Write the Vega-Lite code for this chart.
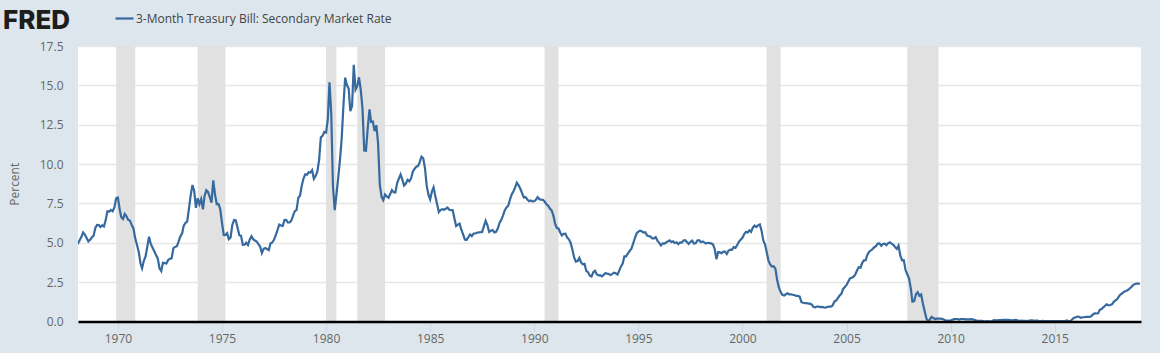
{"$schema":"https://vega.github.io/schema/vega-lite/v6.json","width":1063,"height":275.5,"autosize":"none","padding":{"left":78,"right":19,"top":46,"bottom":31},"background":"#dce6ec","view":{"fill":"#ffffff","stroke":null},"title":{"text":"FRED","anchor":"start","frame":"group","dx":-75,"offset":-26,"font":"Inter","fontSize":26,"fontWeight":800,"color":"#1d1d1b"},"layer":[{"data":{"values":[{"start":"1969-12","end":"1970-11"},{"start":"1973-11","end":"1975-03"},{"start":"1980-01","end":"1980-07"},{"start":"1981-07","end":"1982-11"},{"start":"1990-07","end":"1991-03"},{"start":"2001-03","end":"2001-11"},{"start":"2007-12","end":"2009-06"}]},"mark":{"type":"rect","color":"#e1e1e1"},"encoding":{"x":{"field":"start","type":"temporal","scale":{"type":"utc","domain":[{"year":1968,"month":2,"date":1,"utc":true},{"year":2019,"month":2,"date":22,"utc":true}]},"axis":{"title":null,"format":"%Y","formatType":"utc","tickCount":{"interval":"year","step":5},"grid":false,"domainColor":"#000000","domainWidth":2.5,"tickColor":"#ccd6eb","tickWidth":1,"tickSize":10,"labelFont":"Open Sans","labelFontSize":12,"labelColor":"#666666","labelPadding":2,"zindex":1}},"x2":{"field":"end"}}},{"data":{"name":"rates"},"mark":{"type":"line","strokeWidth":2.2,"clip":true,"interpolate":"linear"},"encoding":{"x":{"field":"d","type":"temporal"},"y":{"field":"v","type":"quantitative","scale":{"domain":[0,17.5],"nice":false},"axis":{"title":"Percent","titleFont":"Open Sans","titleFontSize":12,"titleFontWeight":"normal","titleColor":"#666666","titlePadding":18,"format":".1f","values":[0,2.5,5,7.5,10,12.5,15,17.5],"domain":false,"ticks":false,"grid":true,"gridColor":"#e6e6e6","gridWidth":1.3,"labelFont":"Open Sans","labelFontSize":12,"labelColor":"#666666","labelPadding":15,"zindex":0}},"color":{"datum":"3-Month Treasury Bill: Secondary Market Rate","scale":{"range":["#36699e"]},"legend":{"title":null,"orient":"none","legendX":36,"legendY":-38,"symbolType":"stroke","symbolStrokeWidth":2.2,"symbolSize":324,"labelFont":"Open Sans","labelFontSize":12,"labelColor":"#444444","labelLimit":400,"labelOffset":1}}}}],"datasets":{"rates":[
{"d":"1968-01","v":5.08},{"d":"1968-02","v":4.97},{"d":"1968-03","v":5.16},{"d":"1968-04","v":5.38},{"d":"1968-05","v":5.66},{"d":"1968-06","v":5.52},{"d":"1968-07","v":5.31},{"d":"1968-08","v":5.09},{"d":"1968-09","v":5.19},{"d":"1968-10","v":5.35},{"d":"1968-11","v":5.45},{"d":"1968-12","v":5.94},
{"d":"1969-01","v":6.13},{"d":"1969-02","v":6.12},{"d":"1969-03","v":6.01},{"d":"1969-04","v":6.11},{"d":"1969-05","v":6.04},{"d":"1969-06","v":6.44},{"d":"1969-07","v":7.0},{"d":"1969-08","v":6.98},{"d":"1969-09","v":7.09},{"d":"1969-10","v":7.0},{"d":"1969-11","v":7.24},{"d":"1969-12","v":7.82},
{"d":"1970-01","v":7.87},{"d":"1970-02","v":7.13},{"d":"1970-03","v":6.63},{"d":"1970-04","v":6.51},{"d":"1970-05","v":6.84},{"d":"1970-06","v":6.68},{"d":"1970-07","v":6.45},{"d":"1970-08","v":6.41},{"d":"1970-09","v":6.12},{"d":"1970-10","v":5.91},{"d":"1970-11","v":5.28},{"d":"1970-12","v":4.87},
{"d":"1971-01","v":4.44},{"d":"1971-02","v":3.7},{"d":"1971-03","v":3.38},{"d":"1971-04","v":3.86},{"d":"1971-05","v":4.14},{"d":"1971-06","v":4.75},{"d":"1971-07","v":5.39},{"d":"1971-08","v":4.93},{"d":"1971-09","v":4.69},{"d":"1971-10","v":4.46},{"d":"1971-11","v":4.22},{"d":"1971-12","v":4.01},
{"d":"1972-01","v":3.38},{"d":"1972-02","v":3.2},{"d":"1972-03","v":3.73},{"d":"1972-04","v":3.71},{"d":"1972-05","v":3.69},{"d":"1972-06","v":3.91},{"d":"1972-07","v":3.98},{"d":"1972-08","v":4.02},{"d":"1972-09","v":4.66},{"d":"1972-10","v":4.74},{"d":"1972-11","v":4.78},{"d":"1972-12","v":5.07},
{"d":"1973-01","v":5.41},{"d":"1973-02","v":5.6},{"d":"1973-03","v":6.09},{"d":"1973-04","v":6.26},{"d":"1973-05","v":6.36},{"d":"1973-06","v":7.19},{"d":"1973-07","v":8.01},{"d":"1973-08","v":8.67},{"d":"1973-09","v":8.29},{"d":"1973-10","v":7.22},{"d":"1973-11","v":7.83},{"d":"1973-12","v":7.45},
{"d":"1974-01","v":7.77},{"d":"1974-02","v":7.12},{"d":"1974-03","v":7.96},{"d":"1974-04","v":8.33},{"d":"1974-05","v":8.23},{"d":"1974-06","v":7.9},{"d":"1974-07","v":7.55},{"d":"1974-08","v":8.96},{"d":"1974-09","v":8.06},{"d":"1974-10","v":7.46},{"d":"1974-11","v":7.47},{"d":"1974-12","v":7.15},
{"d":"1975-01","v":6.26},{"d":"1975-02","v":5.5},{"d":"1975-03","v":5.49},{"d":"1975-04","v":5.61},{"d":"1975-05","v":5.23},{"d":"1975-06","v":5.34},{"d":"1975-07","v":6.13},{"d":"1975-08","v":6.44},{"d":"1975-09","v":6.42},{"d":"1975-10","v":5.96},{"d":"1975-11","v":5.48},{"d":"1975-12","v":5.44},
{"d":"1976-01","v":4.87},{"d":"1976-02","v":4.88},{"d":"1976-03","v":5.0},{"d":"1976-04","v":4.86},{"d":"1976-05","v":5.2},{"d":"1976-06","v":5.41},{"d":"1976-07","v":5.23},{"d":"1976-08","v":5.14},{"d":"1976-09","v":5.08},{"d":"1976-10","v":4.92},{"d":"1976-11","v":4.75},{"d":"1976-12","v":4.35},
{"d":"1977-01","v":4.62},{"d":"1977-02","v":4.67},{"d":"1977-03","v":4.6},{"d":"1977-04","v":4.54},{"d":"1977-05","v":4.96},{"d":"1977-06","v":5.02},{"d":"1977-07","v":5.19},{"d":"1977-08","v":5.49},{"d":"1977-09","v":5.81},{"d":"1977-10","v":6.16},{"d":"1977-11","v":6.1},{"d":"1977-12","v":6.07},
{"d":"1978-01","v":6.44},{"d":"1978-02","v":6.45},{"d":"1978-03","v":6.29},{"d":"1978-04","v":6.29},{"d":"1978-05","v":6.41},{"d":"1978-06","v":6.73},{"d":"1978-07","v":7.01},{"d":"1978-08","v":7.08},{"d":"1978-09","v":7.85},{"d":"1978-10","v":7.99},{"d":"1978-11","v":8.64},{"d":"1978-12","v":9.08},
{"d":"1979-01","v":9.35},{"d":"1979-02","v":9.32},{"d":"1979-03","v":9.48},{"d":"1979-04","v":9.46},{"d":"1979-05","v":9.61},{"d":"1979-06","v":9.06},{"d":"1979-07","v":9.24},{"d":"1979-08","v":9.52},{"d":"1979-09","v":10.26},{"d":"1979-10","v":11.7},{"d":"1979-11","v":11.79},{"d":"1979-12","v":12.04},
{"d":"1980-01","v":12.0},{"d":"1980-02","v":12.86},{"d":"1980-03","v":15.2},{"d":"1980-04","v":13.2},{"d":"1980-05","v":8.58},{"d":"1980-06","v":7.07},{"d":"1980-07","v":8.06},{"d":"1980-08","v":9.13},{"d":"1980-09","v":10.27},{"d":"1980-10","v":11.62},{"d":"1980-11","v":13.73},{"d":"1980-12","v":15.49},
{"d":"1981-01","v":15.02},{"d":"1981-02","v":14.79},{"d":"1981-03","v":13.36},{"d":"1981-04","v":13.69},{"d":"1981-05","v":16.3},{"d":"1981-06","v":14.73},{"d":"1981-07","v":14.95},{"d":"1981-08","v":15.51},{"d":"1981-09","v":14.7},{"d":"1981-10","v":13.54},{"d":"1981-11","v":10.86},{"d":"1981-12","v":10.85},
{"d":"1982-01","v":12.28},{"d":"1982-02","v":13.48},{"d":"1982-03","v":12.68},{"d":"1982-04","v":12.7},{"d":"1982-05","v":12.09},{"d":"1982-06","v":12.47},{"d":"1982-07","v":11.35},{"d":"1982-08","v":8.68},{"d":"1982-09","v":7.92},{"d":"1982-10","v":7.71},{"d":"1982-11","v":8.07},{"d":"1982-12","v":7.94},
{"d":"1983-01","v":7.86},{"d":"1983-02","v":8.11},{"d":"1983-03","v":8.35},{"d":"1983-04","v":8.21},{"d":"1983-05","v":8.19},{"d":"1983-06","v":8.79},{"d":"1983-07","v":9.08},{"d":"1983-08","v":9.34},{"d":"1983-09","v":9.0},{"d":"1983-10","v":8.64},{"d":"1983-11","v":8.76},{"d":"1983-12","v":9.0},
{"d":"1984-01","v":8.9},{"d":"1984-02","v":9.09},{"d":"1984-03","v":9.52},{"d":"1984-04","v":9.69},{"d":"1984-05","v":9.83},{"d":"1984-06","v":9.87},{"d":"1984-07","v":10.12},{"d":"1984-08","v":10.47},{"d":"1984-09","v":10.37},{"d":"1984-10","v":9.74},{"d":"1984-11","v":8.61},{"d":"1984-12","v":8.06},
{"d":"1985-01","v":7.76},{"d":"1985-02","v":8.27},{"d":"1985-03","v":8.52},{"d":"1985-04","v":7.95},{"d":"1985-05","v":7.48},{"d":"1985-06","v":6.95},{"d":"1985-07","v":7.08},{"d":"1985-08","v":7.14},{"d":"1985-09","v":7.1},{"d":"1985-10","v":7.16},{"d":"1985-11","v":7.24},{"d":"1985-12","v":7.1},
{"d":"1986-01","v":7.07},{"d":"1986-02","v":7.06},{"d":"1986-03","v":6.56},{"d":"1986-04","v":6.06},{"d":"1986-05","v":6.15},{"d":"1986-06","v":6.21},{"d":"1986-07","v":5.83},{"d":"1986-08","v":5.53},{"d":"1986-09","v":5.21},{"d":"1986-10","v":5.18},{"d":"1986-11","v":5.35},{"d":"1986-12","v":5.53},
{"d":"1987-01","v":5.43},{"d":"1987-02","v":5.59},{"d":"1987-03","v":5.59},{"d":"1987-04","v":5.64},{"d":"1987-05","v":5.66},{"d":"1987-06","v":5.67},{"d":"1987-07","v":5.69},{"d":"1987-08","v":6.04},{"d":"1987-09","v":6.4},{"d":"1987-10","v":6.13},{"d":"1987-11","v":5.69},{"d":"1987-12","v":5.77},
{"d":"1988-01","v":5.81},{"d":"1988-02","v":5.66},{"d":"1988-03","v":5.7},{"d":"1988-04","v":5.91},{"d":"1988-05","v":6.26},{"d":"1988-06","v":6.46},{"d":"1988-07","v":6.73},{"d":"1988-08","v":7.06},{"d":"1988-09","v":7.24},{"d":"1988-10","v":7.35},{"d":"1988-11","v":7.76},{"d":"1988-12","v":8.07},
{"d":"1989-01","v":8.27},{"d":"1989-02","v":8.53},{"d":"1989-03","v":8.82},{"d":"1989-04","v":8.65},{"d":"1989-05","v":8.43},{"d":"1989-06","v":8.15},{"d":"1989-07","v":7.88},{"d":"1989-08","v":7.9},{"d":"1989-09","v":7.75},{"d":"1989-10","v":7.64},{"d":"1989-11","v":7.69},{"d":"1989-12","v":7.63},
{"d":"1990-01","v":7.64},{"d":"1990-02","v":7.74},{"d":"1990-03","v":7.9},{"d":"1990-04","v":7.77},{"d":"1990-05","v":7.74},{"d":"1990-06","v":7.73},{"d":"1990-07","v":7.62},{"d":"1990-08","v":7.45},{"d":"1990-09","v":7.36},{"d":"1990-10","v":7.17},{"d":"1990-11","v":7.06},{"d":"1990-12","v":6.74},
{"d":"1991-01","v":6.22},{"d":"1991-02","v":5.94},{"d":"1991-03","v":5.91},{"d":"1991-04","v":5.65},{"d":"1991-05","v":5.46},{"d":"1991-06","v":5.57},{"d":"1991-07","v":5.58},{"d":"1991-08","v":5.33},{"d":"1991-09","v":5.22},{"d":"1991-10","v":4.99},{"d":"1991-11","v":4.56},{"d":"1991-12","v":4.07},
{"d":"1992-01","v":3.8},{"d":"1992-02","v":3.84},{"d":"1992-03","v":4.04},{"d":"1992-04","v":3.75},{"d":"1992-05","v":3.63},{"d":"1992-06","v":3.66},{"d":"1992-07","v":3.21},{"d":"1992-08","v":3.13},{"d":"1992-09","v":2.91},{"d":"1992-10","v":2.86},{"d":"1992-11","v":3.13},{"d":"1992-12","v":3.22},
{"d":"1993-01","v":3.0},{"d":"1993-02","v":2.93},{"d":"1993-03","v":2.95},{"d":"1993-04","v":2.87},{"d":"1993-05","v":2.96},{"d":"1993-06","v":3.07},{"d":"1993-07","v":3.04},{"d":"1993-08","v":3.02},{"d":"1993-09","v":2.95},{"d":"1993-10","v":3.02},{"d":"1993-11","v":3.1},{"d":"1993-12","v":3.06},
{"d":"1994-01","v":2.98},{"d":"1994-02","v":3.25},{"d":"1994-03","v":3.5},{"d":"1994-04","v":3.68},{"d":"1994-05","v":4.14},{"d":"1994-06","v":4.14},{"d":"1994-07","v":4.33},{"d":"1994-08","v":4.48},{"d":"1994-09","v":4.62},{"d":"1994-10","v":4.95},{"d":"1994-11","v":5.29},{"d":"1994-12","v":5.6},
{"d":"1995-01","v":5.71},{"d":"1995-02","v":5.77},{"d":"1995-03","v":5.73},{"d":"1995-04","v":5.65},{"d":"1995-05","v":5.67},{"d":"1995-06","v":5.47},{"d":"1995-07","v":5.42},{"d":"1995-08","v":5.4},{"d":"1995-09","v":5.28},{"d":"1995-10","v":5.28},{"d":"1995-11","v":5.36},{"d":"1995-12","v":5.14},
{"d":"1996-01","v":5.0},{"d":"1996-02","v":4.83},{"d":"1996-03","v":4.96},{"d":"1996-04","v":4.95},{"d":"1996-05","v":5.02},{"d":"1996-06","v":5.09},{"d":"1996-07","v":5.15},{"d":"1996-08","v":5.05},{"d":"1996-09","v":5.09},{"d":"1996-10","v":4.99},{"d":"1996-11","v":5.03},{"d":"1996-12","v":4.91},
{"d":"1997-01","v":5.03},{"d":"1997-02","v":5.01},{"d":"1997-03","v":5.14},{"d":"1997-04","v":5.16},{"d":"1997-05","v":5.05},{"d":"1997-06","v":4.93},{"d":"1997-07","v":5.05},{"d":"1997-08","v":5.14},{"d":"1997-09","v":4.95},{"d":"1997-10","v":4.97},{"d":"1997-11","v":5.14},{"d":"1997-12","v":5.16},
{"d":"1998-01","v":5.04},{"d":"1998-02","v":5.09},{"d":"1998-03","v":5.03},{"d":"1998-04","v":4.95},{"d":"1998-05","v":5.0},{"d":"1998-06","v":4.98},{"d":"1998-07","v":4.96},{"d":"1998-08","v":4.9},{"d":"1998-09","v":4.61},{"d":"1998-10","v":3.96},{"d":"1998-11","v":4.41},{"d":"1998-12","v":4.39},
{"d":"1999-01","v":4.34},{"d":"1999-02","v":4.44},{"d":"1999-03","v":4.44},{"d":"1999-04","v":4.29},{"d":"1999-05","v":4.5},{"d":"1999-06","v":4.57},{"d":"1999-07","v":4.55},{"d":"1999-08","v":4.72},{"d":"1999-09","v":4.68},{"d":"1999-10","v":4.86},{"d":"1999-11","v":5.07},{"d":"1999-12","v":5.2},
{"d":"2000-01","v":5.32},{"d":"2000-02","v":5.55},{"d":"2000-03","v":5.69},{"d":"2000-04","v":5.66},{"d":"2000-05","v":5.79},{"d":"2000-06","v":5.69},{"d":"2000-07","v":5.96},{"d":"2000-08","v":6.09},{"d":"2000-09","v":6.0},{"d":"2000-10","v":6.11},{"d":"2000-11","v":6.17},{"d":"2000-12","v":5.77},
{"d":"2001-01","v":5.15},{"d":"2001-02","v":4.88},{"d":"2001-03","v":4.42},{"d":"2001-04","v":3.87},{"d":"2001-05","v":3.62},{"d":"2001-06","v":3.49},{"d":"2001-07","v":3.51},{"d":"2001-08","v":3.36},{"d":"2001-09","v":2.64},{"d":"2001-10","v":2.16},{"d":"2001-11","v":1.87},{"d":"2001-12","v":1.69},
{"d":"2002-01","v":1.65},{"d":"2002-02","v":1.73},{"d":"2002-03","v":1.79},{"d":"2002-04","v":1.72},{"d":"2002-05","v":1.73},{"d":"2002-06","v":1.7},{"d":"2002-07","v":1.68},{"d":"2002-08","v":1.62},{"d":"2002-09","v":1.63},{"d":"2002-10","v":1.58},{"d":"2002-11","v":1.23},{"d":"2002-12","v":1.19},
{"d":"2003-01","v":1.17},{"d":"2003-02","v":1.17},{"d":"2003-03","v":1.13},{"d":"2003-04","v":1.13},{"d":"2003-05","v":1.07},{"d":"2003-06","v":0.92},{"d":"2003-07","v":0.9},{"d":"2003-08","v":0.95},{"d":"2003-09","v":0.94},{"d":"2003-10","v":0.92},{"d":"2003-11","v":0.93},{"d":"2003-12","v":0.9},
{"d":"2004-01","v":0.88},{"d":"2004-02","v":0.93},{"d":"2004-03","v":0.94},{"d":"2004-04","v":0.94},{"d":"2004-05","v":1.02},{"d":"2004-06","v":1.27},{"d":"2004-07","v":1.33},{"d":"2004-08","v":1.48},{"d":"2004-09","v":1.65},{"d":"2004-10","v":1.76},{"d":"2004-11","v":2.07},{"d":"2004-12","v":2.19},
{"d":"2005-01","v":2.33},{"d":"2005-02","v":2.54},{"d":"2005-03","v":2.74},{"d":"2005-04","v":2.78},{"d":"2005-05","v":2.84},{"d":"2005-06","v":2.97},{"d":"2005-07","v":3.22},{"d":"2005-08","v":3.44},{"d":"2005-09","v":3.42},{"d":"2005-10","v":3.71},{"d":"2005-11","v":3.88},{"d":"2005-12","v":3.89},
{"d":"2006-01","v":4.24},{"d":"2006-02","v":4.43},{"d":"2006-03","v":4.51},{"d":"2006-04","v":4.6},{"d":"2006-05","v":4.72},{"d":"2006-06","v":4.79},{"d":"2006-07","v":4.95},{"d":"2006-08","v":4.96},{"d":"2006-09","v":4.81},{"d":"2006-10","v":4.92},{"d":"2006-11","v":4.94},{"d":"2006-12","v":4.85},
{"d":"2007-01","v":4.98},{"d":"2007-02","v":5.03},{"d":"2007-03","v":4.94},{"d":"2007-04","v":4.87},{"d":"2007-05","v":4.73},{"d":"2007-06","v":4.61},{"d":"2007-07","v":4.82},{"d":"2007-08","v":4.2},{"d":"2007-09","v":3.89},{"d":"2007-10","v":3.9},{"d":"2007-11","v":3.27},{"d":"2007-12","v":3.0},
{"d":"2008-01","v":2.75},{"d":"2008-02","v":2.12},{"d":"2008-03","v":1.26},{"d":"2008-04","v":1.29},{"d":"2008-05","v":1.73},{"d":"2008-06","v":1.86},{"d":"2008-07","v":1.63},{"d":"2008-08","v":1.72},{"d":"2008-09","v":1.13},{"d":"2008-10","v":0.67},{"d":"2008-11","v":0.19},{"d":"2008-12","v":0.03},
{"d":"2009-01","v":0.13},{"d":"2009-02","v":0.3},{"d":"2009-03","v":0.22},{"d":"2009-04","v":0.16},{"d":"2009-05","v":0.18},{"d":"2009-06","v":0.18},{"d":"2009-07","v":0.18},{"d":"2009-08","v":0.17},{"d":"2009-09","v":0.12},{"d":"2009-10","v":0.07},{"d":"2009-11","v":0.05},{"d":"2009-12","v":0.05},
{"d":"2010-01","v":0.06},{"d":"2010-02","v":0.11},{"d":"2010-03","v":0.15},{"d":"2010-04","v":0.16},{"d":"2010-05","v":0.16},{"d":"2010-06","v":0.12},{"d":"2010-07","v":0.16},{"d":"2010-08","v":0.16},{"d":"2010-09","v":0.15},{"d":"2010-10","v":0.13},{"d":"2010-11","v":0.14},{"d":"2010-12","v":0.14},
{"d":"2011-01","v":0.15},{"d":"2011-02","v":0.13},{"d":"2011-03","v":0.1},{"d":"2011-04","v":0.06},{"d":"2011-05","v":0.04},{"d":"2011-06","v":0.04},{"d":"2011-07","v":0.04},{"d":"2011-08","v":0.02},{"d":"2011-09","v":0.01},{"d":"2011-10","v":0.02},{"d":"2011-11","v":0.01},{"d":"2011-12","v":0.01},
{"d":"2012-01","v":0.03},{"d":"2012-02","v":0.09},{"d":"2012-03","v":0.08},{"d":"2012-04","v":0.08},{"d":"2012-05","v":0.09},{"d":"2012-06","v":0.09},{"d":"2012-07","v":0.1},{"d":"2012-08","v":0.1},{"d":"2012-09","v":0.11},{"d":"2012-10","v":0.1},{"d":"2012-11","v":0.09},{"d":"2012-12","v":0.07},
{"d":"2013-01","v":0.07},{"d":"2013-02","v":0.1},{"d":"2013-03","v":0.09},{"d":"2013-04","v":0.06},{"d":"2013-05","v":0.04},{"d":"2013-06","v":0.05},{"d":"2013-07","v":0.04},{"d":"2013-08","v":0.04},{"d":"2013-09","v":0.02},{"d":"2013-10","v":0.05},{"d":"2013-11","v":0.07},{"d":"2013-12","v":0.07},
{"d":"2014-01","v":0.04},{"d":"2014-02","v":0.05},{"d":"2014-03","v":0.05},{"d":"2014-04","v":0.03},{"d":"2014-05","v":0.03},{"d":"2014-06","v":0.04},{"d":"2014-07","v":0.03},{"d":"2014-08","v":0.03},{"d":"2014-09","v":0.02},{"d":"2014-10","v":0.02},{"d":"2014-11","v":0.02},{"d":"2014-12","v":0.03},
{"d":"2015-01","v":0.03},{"d":"2015-02","v":0.02},{"d":"2015-03","v":0.03},{"d":"2015-04","v":0.02},{"d":"2015-05","v":0.02},{"d":"2015-06","v":0.02},{"d":"2015-07","v":0.03},{"d":"2015-08","v":0.07},{"d":"2015-09","v":0.02},{"d":"2015-10","v":0.02},{"d":"2015-11","v":0.13},{"d":"2015-12","v":0.23},
{"d":"2016-01","v":0.26},{"d":"2016-02","v":0.31},{"d":"2016-03","v":0.3},{"d":"2016-04","v":0.23},{"d":"2016-05","v":0.27},{"d":"2016-06","v":0.27},{"d":"2016-07","v":0.3},{"d":"2016-08","v":0.3},{"d":"2016-09","v":0.29},{"d":"2016-10","v":0.33},{"d":"2016-11","v":0.45},{"d":"2016-12","v":0.51},
{"d":"2017-01","v":0.51},{"d":"2017-02","v":0.52},{"d":"2017-03","v":0.74},{"d":"2017-04","v":0.79},{"d":"2017-05","v":0.9},{"d":"2017-06","v":1.0},{"d":"2017-07","v":1.09},{"d":"2017-08","v":1.03},{"d":"2017-09","v":1.05},{"d":"2017-10","v":1.09},{"d":"2017-11","v":1.25},{"d":"2017-12","v":1.34},
{"d":"2018-01","v":1.43},{"d":"2018-02","v":1.59},{"d":"2018-03","v":1.73},{"d":"2018-04","v":1.79},{"d":"2018-05","v":1.9},{"d":"2018-06","v":1.94},{"d":"2018-07","v":1.99},{"d":"2018-08","v":2.07},{"d":"2018-09","v":2.17},{"d":"2018-10","v":2.29},{"d":"2018-11","v":2.37},{"d":"2018-12","v":2.41},{"d":"2019-01","v":2.41},{"d":"2019-02","v":2.39}
]}}
